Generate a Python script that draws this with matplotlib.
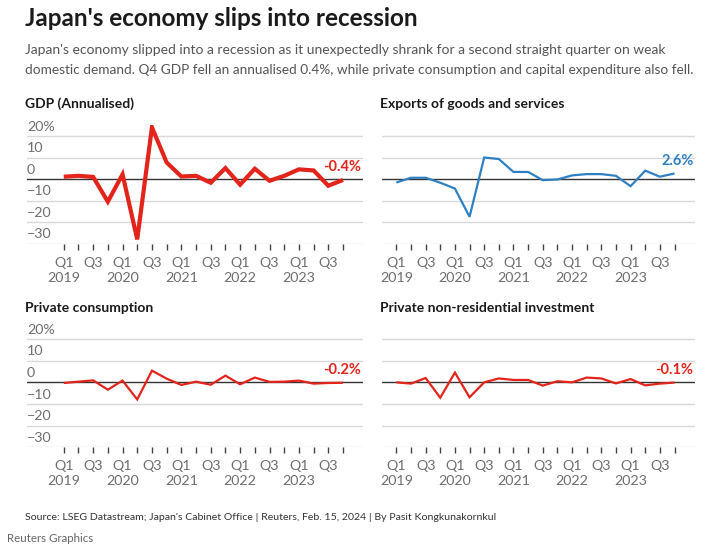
import matplotlib
matplotlib.use("Agg")
import matplotlib.pyplot as plt

# ---- data ----
quarters = ["Q1 2019","Q2 2019","Q3 2019","Q4 2019",
            "Q1 2020","Q2 2020","Q3 2020","Q4 2020",
            "Q1 2021","Q2 2021","Q3 2021","Q4 2021",
            "Q1 2022","Q2 2022","Q3 2022","Q4 2022",
            "Q1 2023","Q2 2023","Q3 2023","Q4 2023"]
gdp = [1.1, 1.5, 1.0, -10.5, 2.2, -28.0, 24.0, 7.7, 1.2, 1.5, -1.7, 5.1,
       -2.6, 4.8, -0.8, 1.5, 4.5, 4.0, -3.1, -0.4]
exports = [-1.6, 0.6, 0.6, -1.7, -4.4, -17.5, 10.0, 9.3, 3.3, 3.3, -0.5, -0.2,
           1.7, 2.3, 2.3, 1.5, -3.3, 3.9, 1.1, 2.6]
consumption = [-0.3, 0.3, 0.9, -3.4, 0.8, -7.9, 5.4, 1.7, -1.2, 0.3, -1.1, 3.1,
               -0.9, 2.2, 0.2, 0.3, 0.8, -0.6, -0.3, -0.2]
investment = [0.0, -0.6, 2.0, -7.1, 4.5, -6.9, 0.0, 1.8, 1.1, 1.1, -1.5, 0.5,
              0.0, 2.2, 1.8, -0.5, 1.5, -1.4, -0.6, -0.1]
y_ticks = [20, 10, 0, -10, -20, -30]
y_tick_labels = ["20%", "10", "0", "\u221210", "\u221220", "\u221230"]
end_labels = ["-0.4%", "2.6%", "-0.2%", "-0.1%"]
titles = ["GDP (Annualised)", "Exports of goods and services",
          "Private consumption", "Private non-residential investment"]

RED = "#e3241b"
BLUE = "#2f80c3"
GRID = "#d9d9d9"
TXT = "#6e6e6e"

plt.rcParams['font.family'] = ['Lato', 'DejaVu Sans']

W, H = 711, 554
fig = plt.figure(figsize=(W / 100, H / 100), dpi=100)
renderer = fig.canvas.get_renderer()

def fit_text(x, y, s, target_w, fs, **kw):
    t = fig.text(x / W, 1 - y / H, s, fontsize=fs, ha="left", va="center", **kw)
    w = t.get_window_extent(renderer=renderer).width
    t.set_fontsize(fs * target_w / w)
    return t

def ax_rect(x0, x1, ytop, ybot):
    return [x0 / W, 1 - ybot / H, (x1 - x0) / W, (ybot - ytop) / H]

panels = [
    dict(rect=ax_rect(27, 363, 125.2, 243.7), data=gdp, color=RED, lw=3.0,
         xlim=(-2.5, 20.36), ylabels=True, title_xy=(25, 104)),
    dict(rect=ax_rect(382, 695, 125.2, 243.7), data=exports, color=BLUE, lw=1.6,
         xlim=(-0.98, 20.4), ylabels=False, title_xy=(380, 104)),
    dict(rect=ax_rect(27, 363, 328.2, 447.3), data=consumption, color=RED, lw=1.6,
         xlim=(-2.5, 20.36), ylabels=True, title_xy=(25, 308)),
    dict(rect=ax_rect(382, 695, 328.2, 447.3), data=investment, color=RED, lw=1.6,
         xlim=(-0.98, 20.4), ylabels=False, title_xy=(380, 308)),
]

xs = list(range(len(quarters)))
tick_labels = []
for q in quarters:
    qq, yr = q.split()
    if qq == "Q1":
        tick_labels.append("Q1\n" + yr)
    elif qq == "Q3":
        tick_labels.append("Q3")
    else:
        tick_labels.append("")

for i, p in enumerate(panels):
    ax = fig.add_axes(p["rect"])
    ax.set_xlim(*p["xlim"])
    ax.set_ylim(-30, 25)
    for s in ax.spines.values():
        s.set_visible(False)
    for yv in y_ticks:
        if yv == 0:
            continue
        ax.axhline(yv, color=GRID, lw=1.0, zorder=1)
    ax.axhline(0, color="#333333", lw=1.0, zorder=2)
    ax.plot(xs, p["data"], color=p["color"], lw=p["lw"], zorder=3,
            solid_joinstyle="miter", solid_capstyle="butt")
    ax.set_yticks([])
    ax.set_xticks(xs)
    ax.set_xticklabels(tick_labels, fontsize=10.3, color=TXT, linespacing=1.3)
    ax.tick_params(axis="x", length=4.5, width=1.0, color="#444444", pad=5)
    if p["ylabels"]:
        for yv, lab in zip(y_ticks, y_tick_labels):
            ax.annotate(lab, xy=(0, yv), xycoords=("axes fraction", "data"),
                        xytext=(0, 2.5), textcoords="offset points",
                        ha="left", va="bottom", fontsize=10.3, color=TXT)
    ax.annotate(end_labels[i], xy=(0.995, p["data"][-1]),
                xycoords=("axes fraction", "data"),
                xytext=(0, 9), textcoords="offset points",
                ha="right", va="center", fontsize=10.5, fontweight="bold",
                color=p["color"])
    tx, ty = p["title_xy"]
    fig.text(tx / W, 1 - ty / H, titles[i], fontsize=10, fontweight="bold",
             color="#1a1a1a", ha="left", va="center")

fit_text(25, 19, "Japan's economy slips into recession", 392, 17.5,
         fontweight="bold", color="#1a1a1a")
sub_family = ['Liberation Sans Narrow', 'Lato', 'DejaVu Sans']
fit_text(25, 50,
         "Japan's economy slipped into a recession as it unexpectedly shrank for a second straight quarter on weak",
         643, 11.5, color="#555555", family=sub_family)
fit_text(25, 70,
         "domestic demand. Q4 GDP fell an annualised 0.4%, while private consumption and capital expenditure also fell.",
         667, 11.5, color="#555555", family=sub_family)
fit_text(25, 517,
         "Source: LSEG Datastream; Japan's Cabinet Office | Reuters, Feb. 15, 2024 | By Pasit Kongkunakornkul",
         468, 9.0, color="#333333", family=sub_family)
fit_text(7, 538, "Reuters Graphics", 87, 9.5, color="#666666", family=sub_family)

fig.savefig("out.png", dpi=100, facecolor="white")
